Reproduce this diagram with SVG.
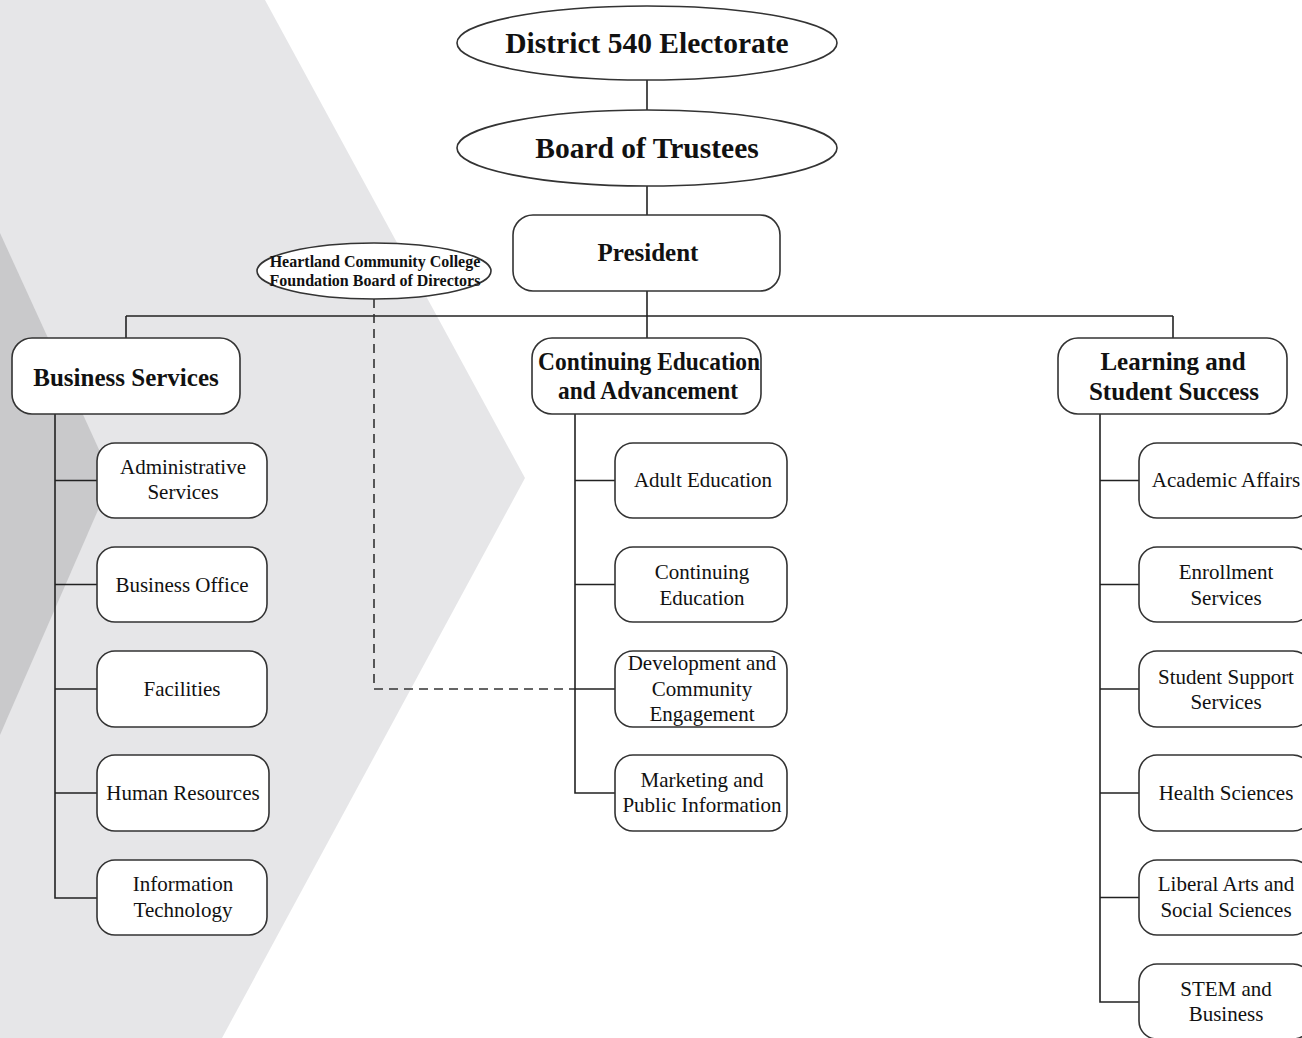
<svg xmlns="http://www.w3.org/2000/svg" width="1302" height="1038" viewBox="0 0 1302 1038">
<style>
.bg{fill:#ffffff}
.lt{fill:#e6e6e8}
.dk{fill:#c9c9cb}
.node{fill:#ffffff;stroke:#333;stroke-width:1.6}
.ln{stroke:#222;stroke-width:1.6;fill:none}
.dash{stroke:#333;stroke-width:1.6;fill:none;stroke-dasharray:9 6}
text{font-family:'Liberation Serif','Tinos','DejaVu Serif',serif;fill:#111;text-anchor:middle}
.t1{font-size:29.5px;font-weight:bold}
.t2{font-size:25px;font-weight:bold}
.t3{font-size:21px}
.t4{font-size:16px;font-weight:bold}
</style>
<rect class="bg" x="0" y="0" width="1302" height="1038"/>
<polygon class="lt" points="0,0 265,0 525,478 222,1038 0,1038"/>
<polygon class="dk" points="0,233 112,478 0,735"/>
<g id="connectors">
<line class="ln" x1="647" y1="80" x2="647" y2="110"/>
<line class="ln" x1="647" y1="186" x2="647" y2="215"/>
<line class="ln" x1="647" y1="291" x2="647" y2="338"/>
<line class="ln" x1="126" y1="316" x2="1173" y2="316"/>
<line class="ln" x1="126" y1="316" x2="126" y2="338"/>
<line class="ln" x1="1173" y1="316" x2="1173" y2="338"/>
<path class="dash" d="M374,299 V689 H575"/>
<path class="ln" d="M55,414 V898 H97 M55,480.5 H97 M55,584.5 H97 M55,689 H97 M55,793 H97"/>
<path class="ln" d="M575,414 V793 H615 M575,480.5 H615 M575,584.5 H615 M575,689 H615"/>
<path class="ln" d="M1100,414 V1002 H1139 M1100,480.5 H1139 M1100,584.5 H1139 M1100,689 H1139 M1100,793 H1139 M1100,897.5 H1139"/>
</g>
<g id="electorate"><ellipse class="node" cx="647" cy="43" rx="190" ry="37"/><text class="t1" x="647" y="53">District 540 Electorate</text></g>
<g id="trustees"><ellipse class="node" cx="647" cy="148" rx="190" ry="38"/><text class="t1" x="647" y="158">Board of Trustees</text></g>
<g id="president"><rect class="node" x="513" y="215" width="267" height="76" rx="20"/><text class="t2" x="648" y="261">President</text></g>
<g id="foundation"><ellipse class="node" cx="374" cy="271" rx="117" ry="28"/><text class="t4" x="375" y="267">Heartland Community College</text><text class="t4" x="375" y="286">Foundation Board of Directors</text></g>
<g id="business"><rect class="node" x="12" y="338" width="228" height="76" rx="20"/><text class="t2" x="126" y="386">Business Services</text></g>
<g id="continuing"><rect class="node" x="532" y="338" width="229" height="76" rx="20"/><text class="t2" x="649" y="370" textLength="222" lengthAdjust="spacingAndGlyphs">Continuing Education</text><text class="t2" x="648" y="399" textLength="180" lengthAdjust="spacingAndGlyphs">and Advancement</text></g>
<g id="learning"><rect class="node" x="1058" y="338" width="229" height="76" rx="20"/><text class="t2" x="1173" y="370">Learning and</text><text class="t2" x="1174" y="400">Student Success</text></g>
<g id="admin"><rect class="node" x="97" y="443" width="170" height="75" rx="18"/><text class="t3" x="183" y="474">Administrative</text><text class="t3" x="183" y="499">Services</text></g>
<g id="bizoffice"><rect class="node" x="97" y="547" width="170" height="75" rx="18"/><text class="t3" x="182" y="592">Business Office</text></g>
<g id="facilities"><rect class="node" x="97" y="651" width="170" height="76" rx="18"/><text class="t3" x="182" y="696">Facilities</text></g>
<g id="hr"><rect class="node" x="97" y="755" width="172" height="76" rx="18"/><text class="t3" x="183" y="800">Human Resources</text></g>
<g id="it"><rect class="node" x="97" y="860" width="170" height="75" rx="18"/><text class="t3" x="183" y="891">Information</text><text class="t3" x="183" y="917">Technology</text></g>
<g id="adulted"><rect class="node" x="615" y="443" width="172" height="75" rx="18"/><text class="t3" x="703" y="487">Adult Education</text></g>
<g id="conted"><rect class="node" x="615" y="547" width="172" height="75" rx="18"/><text class="t3" x="702" y="579">Continuing</text><text class="t3" x="702" y="605">Education</text></g>
<g id="development"><rect class="node" x="615" y="651" width="172" height="76" rx="18"/><text class="t3" x="702" y="670">Development and</text><text class="t3" x="702" y="696">Community</text><text class="t3" x="702" y="721">Engagement</text></g>
<g id="marketing"><rect class="node" x="615" y="755" width="172" height="76" rx="18"/><text class="t3" x="702" y="787">Marketing and</text><text class="t3" x="702" y="812">Public Information</text></g>
<g id="academic"><rect class="node" x="1139" y="443" width="172" height="75" rx="18"/><text class="t3" x="1226" y="487">Academic Affairs</text></g>
<g id="enrollment"><rect class="node" x="1139" y="547" width="172" height="75" rx="18"/><text class="t3" x="1226" y="579">Enrollment</text><text class="t3" x="1226" y="605">Services</text></g>
<g id="support"><rect class="node" x="1139" y="651" width="172" height="76" rx="18"/><text class="t3" x="1226" y="684">Student Support</text><text class="t3" x="1226" y="709">Services</text></g>
<g id="health"><rect class="node" x="1139" y="755" width="172" height="76" rx="18"/><text class="t3" x="1226" y="800">Health Sciences</text></g>
<g id="liberal"><rect class="node" x="1139" y="860" width="172" height="75" rx="18"/><text class="t3" x="1226" y="891">Liberal Arts and</text><text class="t3" x="1226" y="917">Social Sciences</text></g>
<g id="stem"><rect class="node" x="1139" y="964" width="172" height="75" rx="18"/><text class="t3" x="1226" y="996">STEM and</text><text class="t3" x="1226" y="1021">Business</text></g>
</svg>
